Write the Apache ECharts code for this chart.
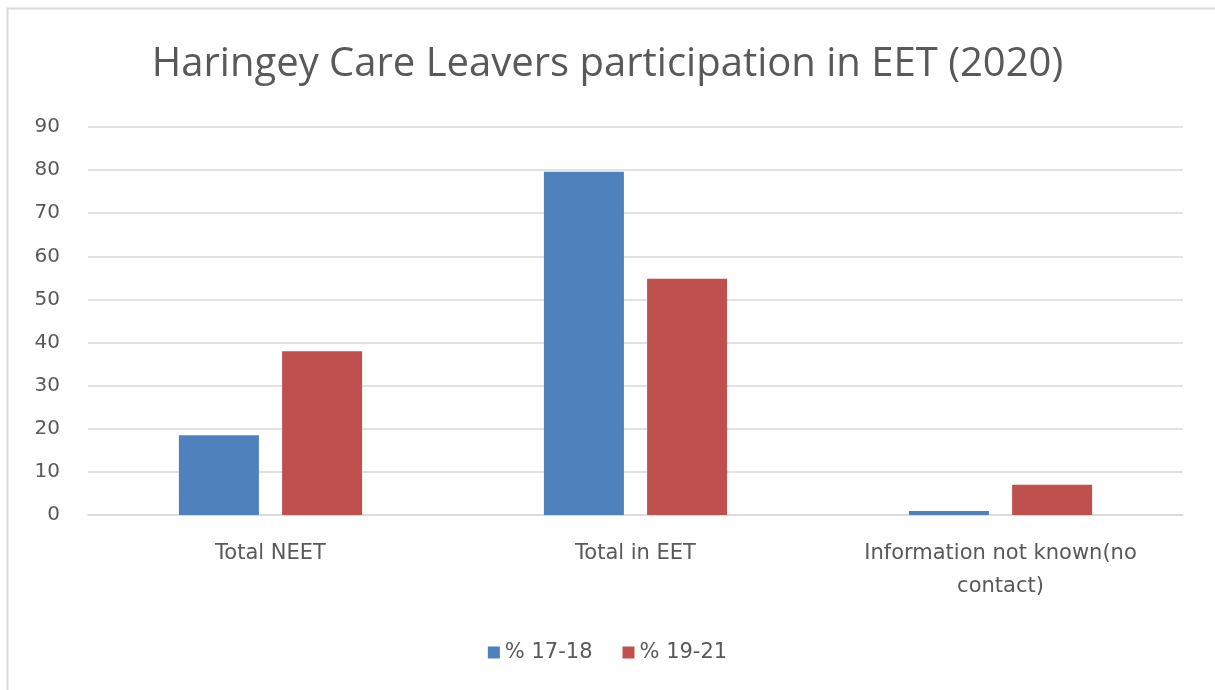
<!DOCTYPE html>
<html>
<head>
<meta charset="utf-8">
<script src="https://cdn.jsdelivr.net/npm/echarts@6/dist/echarts.min.js"></script>
<style>
  html, body { margin: 0; padding: 0; background: #fff; }
  #chart { width: 1215px; height: 690px; }
</style>
</head>
<body>
<div id="chart"></div>
<script>
const categories = ['Total NEET', 'Total in EET', 'Information not known(no contact)']
const seriesNames = ['% 17-18', '% 19-21']
const age1718 = [18.5, 79.6, 0.9]
const age1921 = [38, 54.8, 7]
const yTicks = { min: 0, max: 90, interval: 10 }

const chart = echarts.init(document.getElementById('chart'))
const option = {
  animation: false,
  color: ['#4f81bd', '#c0504d'],
  graphic: [{
    type: 'rect',
    shape: { x: 7.5, y: 8.5, width: 1220, height: 690 },
    style: { fill: 'none', stroke: '#d9d9d9', lineWidth: 2 }
  }],
  title: {
    text: 'Haringey Care Leavers participation in EET (2020)',
    left: 'center',
    top: 40,
    textStyle: {
      color: '#595959',
      fontFamily: 'Open Sans',
      fontWeight: 'normal',
      fontSize: 40
    }
  },
  legend: {
    bottom: 22,
    left: 'center',
    itemWidth: 12,
    itemHeight: 12,
    itemGap: 30,
    icon: 'rect',
    textStyle: { color: '#595959', fontSize: 21, fontFamily: 'DejaVu Sans' },
    data: seriesNames
  },
  grid: { left: 88, right: 32, top: 127, bottom: 175 },
  xAxis: {
    type: 'category',
    data: categories,
    axisTick: { show: false },
    axisLine: { lineStyle: { color: '#d9d9d9', width: 1.5 } },
    axisLabel: {
      interval: 0,
      hideOverlap: false,
      color: '#595959',
      fontSize: 21,
      fontFamily: 'DejaVu Sans',
      margin: 22,
      lineHeight: 33,
      formatter: v => v.replace('(no ', '(no\n')
    }
  },
  yAxis: {
    type: 'value',
    min: yTicks.min,
    max: yTicks.max,
    interval: yTicks.interval,
    axisLine: { show: false },
    axisTick: { show: false },
    splitLine: { lineStyle: { color: '#d9d9d9', width: 1.5 } },
    axisLabel: { color: '#595959', fontSize: 20, fontFamily: 'DejaVu Sans', margin: 28 }
  },
  series: [{
    name: seriesNames[0],
    type: 'bar',
    data: age1718,
    barWidth: 80,
    barGap: '29%'
  }, {
    name: seriesNames[1],
    type: 'bar',
    data: age1921,
    barWidth: 80,
    barGap: '29%'
  }]
}
chart.setOption(option)
</script>
</body>
</html>
